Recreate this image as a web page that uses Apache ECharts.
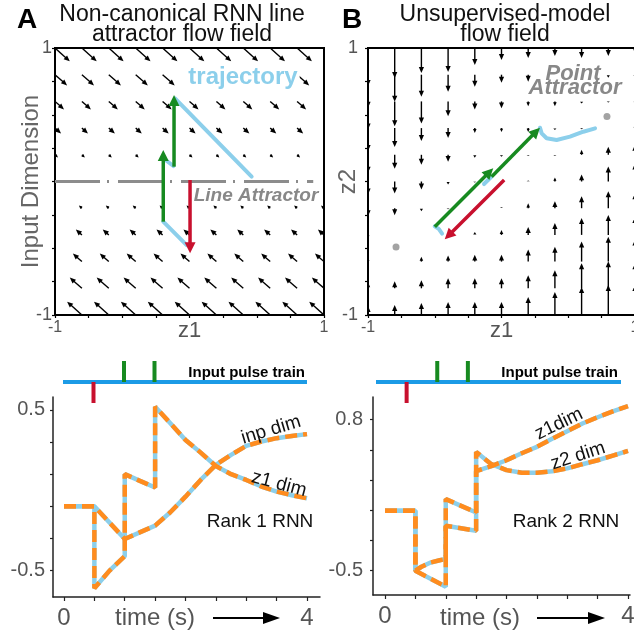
<!DOCTYPE html>
<html>
<head>
<meta charset="utf-8">
<script src="https://cdn.jsdelivr.net/npm/echarts@6/dist/echarts.min.js"></script>
<style>
html, body { margin: 0; padding: 0; background: #fff; }
#chart { width: 634px; height: 636px; }
</style>
</head>
<body>
<div id="chart"></div>
<script>
// ---------- panel A : flow field of the rank-1 RNN (arrows only depend on the row) ----------
const aColX = [-1, -0.8, -0.6, -0.4, -0.2, 0, 0.2, 0.4, 0.6, 0.8, 1];
const aRowY = [1, 0.8, 0.6, 0.4, 0.2, 0, -0.2, -0.4, -0.6, -0.8, -1];
const aRowDx = [0.11, 0.09, 0.067, 0.045, 0.022, 0, -0.022, -0.045, -0.067, -0.09, -0.11];
const aRowDy = [-0.1, -0.08, -0.06, -0.04, -0.02, 0, 0.02, 0.04, 0.06, 0.08, 0.1];
const aLineAttr = [[-1, 0], [0.92, 0]];
const aRedPulse = [[0.004, 0.011, 0.004, -0.538]];
const aGreenPulses = [[-0.195, -0.301, -0.195, 0.236], [-0.115, 0.111, -0.115, 0.648]];
const aFlow1 = [[-0.021, -0.476], [-0.195, -0.301]];
const aFlow2 = [[-0.195, 0.174], [-0.12, 0.116]];
const aFlow3 = [[-0.108, 0.623], [0.462, 0.036]];

// ---------- panel B : unsupervised model flow field ----------
const bColX = [-1, -0.8, -0.6, -0.4, -0.2, 0, 0.2, 0.4, 0.6, 0.8, 1];
const bRowY = [1, 0.8, 0.6, 0.4, 0.2, 0, -0.2, -0.4, -0.6, -0.8, -1];
// vertical component per row (top row first), one value per column
const bDy = [
  [-0.285, -0.225, -0.187, -0.18, -0.127, -0.09, -0.075, -0.06, -0.075, -0.06, -0.037],
  [-0.247, -0.202, -0.165, -0.127, -0.09, -0.06, -0.052, -0.03, -0.022, -0.022, -0.022],
  [-0.21, -0.187, -0.165, -0.112, -0.06, -0.052, -0.037, -0.037, -0.015, -0.008, -0.015],
  [-0.172, -0.142, -0.097, -0.075, -0.037, -0.03, -0.03, -0.015, -0.008, 0, 0.022],
  [-0.135, -0.105, -0.075, -0.052, -0.022, -0.015, -0.008, -0.008, 0.037, 0.06, 0.075],
  [-0.097, -0.09, -0.06, -0.022, -0.008, -0.008, 0.008, 0.03, 0.052, 0.112, 0.135],
  [-0.06, -0.052, -0.022, -0.008, -0.008, 0.008, 0.037, 0.052, 0.09, 0.127, 0.112],
  [-0.022, -0.004, -0.004, 0, 0.022, 0.037, 0.06, 0.09, 0.127, 0.15, 0.135],
  [0.022, 0.004, 0.037, 0.045, 0.052, 0.052, 0.09, 0.112, 0.15, 0.187, 0.165],
  [0.045, 0.052, 0.06, 0.075, 0.075, 0.075, 0.097, 0.135, 0.187, 0.202, 0.187],
  [0.067, 0.075, 0.09, 0.097, 0.097, 0.097, 0.135, 0.172, 0.21, 0.225, 0.225]
];
const bPointAttr = [[-0.79, -0.49], [0.79, 0.486]];
const bRedPulse = [[0.02, 0.011, -0.425, -0.433]];
const bGreenPulses = [[-0.5, -0.339, -0.062, 0.099], [-0.074, 0.036, 0.288, 0.403]];
const bFlow1 = [[-0.5, -0.336], [-0.47, -0.355], [-0.445, -0.39]];
const bFlow2 = [[-0.131, -0.019], [-0.078, 0.034]];
const bFlow3 = [[0.288, 0.403], [0.301, 0.361], [0.338, 0.324], [0.413, 0.311], [0.513, 0.336], [0.613, 0.373], [0.701, 0.398]];

// ---------- input pulse train ----------
const pulseTimes = [0.5, 1.0, 1.5];
const pulseSigns = [-1, 1, 1];
const pulseSpan = [0, 4];

// ---------- panel C : rank 1 RNN time course ----------
const cTimeZ1 = [0, 0.5, 0.5, 0.75, 1.0, 1.0, 1.25, 1.5, 1.5, 1.75, 2.0, 2.25, 2.5, 2.75, 3.0, 3.25, 3.5, 3.75, 4.0];
const cZ1 = [-0.1, -0.1, -0.61, -0.5, -0.41, 0.1, 0.058, 0.017, 0.52, 0.417, 0.313, 0.234, 0.151, 0.1, 0.064, 0.023, -0.008, -0.031, -0.05];
const cTimeInp = [0, 0.5, 1.0, 1.5, 1.75, 2.0, 2.25, 2.5, 2.75, 3.0, 3.25, 3.5, 3.75, 4.0];
const cInp = [-0.1, -0.1, -0.303, -0.22, -0.137, -0.04, 0.064, 0.158, 0.22, 0.276, 0.303, 0.324, 0.338, 0.349];
const cTicksX = [0, 0.5, 1, 1.5, 2, 2.5, 3, 3.5, 4];
const cTicksY = [-0.5, -0.3, -0.1, 0.1, 0.3, 0.5];

// ---------- panel D : rank 2 RNN time course ----------
const dTimeZ1 = [0, 0.5, 0.5, 1.0, 1.0, 1.5, 1.5, 1.75, 2.0, 2.25, 2.5, 2.75, 3.0, 3.25, 3.5, 3.75, 4.0];
const dZ1 = [0.015, 0.015, -0.5, -0.638, -0.113, -0.156, 0.356, 0.4, 0.45, 0.51, 0.565, 0.634, 0.7, 0.766, 0.82, 0.87, 0.915];
const dTimeZ2 = [0, 0.5, 0.5, 0.6, 0.75, 0.9, 1.0, 1.0, 1.5, 1.5, 1.75, 2.0, 2.25, 2.5, 2.75, 3.0, 3.25, 3.5, 3.75, 4.0];
const dZ2 = [0.015, 0.015, -0.5, -0.466, -0.43, -0.41, -0.4, 0.116, 0.001, 0.522, 0.416, 0.365, 0.342, 0.342, 0.356, 0.38, 0.416, 0.45, 0.49, 0.53];
const dTicksY = [-0.5, -0.24, 0.02, 0.28, 0.54, 0.8];

const FONT = '"Liberation Sans", Arial, Helvetica, sans-serif';
const RED = '#c8102e', GREEN = '#178a20', SKY = '#8ccfeb', ORANGE = '#ff8c1e', PULSE = '#1c9be6';

// arrow drawn from (x0,y0) to (x1,y1) or to (x0+dx,y0+dy) when relative
function makeArrow(o) {
  return function (params, api) {
    const x0 = api.value(0), y0 = api.value(1);
    let x1 = api.value(2), y1 = api.value(3);
    if (o.relative) { x1 += x0; y1 += y0; }
    const p0 = api.coord([x0, y0]), p1 = api.coord([x1, y1]);
    const vx = p1[0] - p0[0], vy = p1[1] - p0[1];
    const len = Math.hypot(vx, vy);
    const cs = params.coordSys;
    const group = { type: 'group', children: [],
      clipPath: { type: 'rect', shape: { x: cs.x, y: cs.y, width: cs.width, height: cs.height } } };
    if (len < 0.8) return group;
    const ux = vx / len, uy = vy / len, nx = -uy, ny = ux;
    let hl = o.headL, hw = o.headW / 2;
    if (len < hl * 1.2) { const k = len / (hl * 1.2); hl *= k; hw *= Math.max(k, 0.6); }
    const bx = p1[0] - ux * hl, by = p1[1] - uy * hl;
    if (len > hl + 0.5) {
      group.children.push({ type: 'line',
        shape: { x1: p0[0], y1: p0[1], x2: bx + ux, y2: by + uy },
        style: { stroke: o.color, lineWidth: o.shaftW } });
    }
    group.children.push({ type: 'polygon',
      shape: { points: [[p1[0], p1[1]], [bx + nx * hw, by + ny * hw], [bx - nx * hw, by - ny * hw]] },
      style: { fill: o.color } });
    return group;
  };
}

const aQuiver = [];
aRowY.forEach((y, r) => aColX.forEach(x => aQuiver.push([x, y, aRowDx[r], aRowDy[r]])));
const bQuiver = [];
bRowY.forEach((y, r) => bColX.forEach((x, c) => bQuiver.push([x, y, 0, bDy[r][c]])));

function zip(ts, vs) { return ts.map((t, i) => [t, vs[i]]); }

function flowLine(data, xi) {
  return { type: 'line', xAxisIndex: xi, yAxisIndex: xi, data: data, symbol: 'none', z: 3,
    lineStyle: { color: SKY, width: 4, cap: 'round' }, silent: true };
}
function pulseArrows(data, xi, color) {
  return { type: 'custom', xAxisIndex: xi, yAxisIndex: xi, data: data, z: 4,
    encode: { x: [0, 2], y: [1, 3] },
    renderItem: makeArrow({ relative: false, color: color, shaftW: 3.5, headL: 11, headW: 11 }) };
}
function quiver(data, xi) {
  return { type: 'custom', xAxisIndex: xi, yAxisIndex: xi, data: data, z: 1,
    encode: { x: 0, y: 1 },
    renderItem: makeArrow({ relative: true, color: '#000', shaftW: 1.4, headL: 6, headW: 5.2 }) };
}
function dashedTrace(data, xi) {
  return [
    { type: 'line', xAxisIndex: xi, yAxisIndex: xi, data: data, symbol: 'none', z: 2,
      lineStyle: { color: SKY, width: 4.5 } },
    { type: 'line', xAxisIndex: xi, yAxisIndex: xi, data: data, symbol: 'none', z: 3,
      lineStyle: { color: ORANGE, width: 4.5, type: [12, 6] } }
  ];
}
function pulseSeries(xi) {
  return [
    { type: 'line', xAxisIndex: xi, yAxisIndex: xi, data: pulseSpan.map(t => [t, 0]), symbol: 'none', z: 2,
      lineStyle: { color: PULSE, width: 4 } },
    { type: 'bar', xAxisIndex: xi, yAxisIndex: xi, barWidth: 4, z: 3,
      data: pulseTimes.map((t, i) => ({ value: [t, pulseSigns[i]],
        itemStyle: { color: pulseSigns[i] < 0 ? RED : GREEN } })) }
  ];
}

const boxAxis = {
  axisLine: { show: true, onZero: false, lineStyle: { color: '#000', width: 2 } },
  axisTick: { show: true, inside: false, length: 3, lineStyle: { color: '#000', width: 1.2 } },
  splitLine: { show: false }
};
function flowX(gi) {
  return Object.assign({ type: 'value', gridIndex: gi, min: -1, max: 1, interval: 0.25,
    axisLabel: { customValues: [-1, 0, 1], margin: 5, fontSize: 16, color: '#555', fontFamily: FONT,
      formatter: v => v === 0 ? '{z|z1}' : String(v),
      rich: { z: { fontSize: 22, color: '#555', fontFamily: FONT } } } }, boxAxis);
}
function flowY(gi, name, gap, margin) {
  return Object.assign({ type: 'value', gridIndex: gi, min: -1, max: 1, interval: 0.25,
    name: name, nameLocation: 'middle', nameGap: gap, nameMoveOverlap: false,
    nameTextStyle: { fontSize: 24, color: '#666', fontFamily: FONT },
    axisLabel: { customValues: [-1, 1], margin: margin, fontSize: 18, color: '#555', fontFamily: FONT } }, boxAxis);
}
const timeAxisStyle = {
  axisLine: { show: true, onZero: false, lineStyle: { color: '#222', width: 1.5 } },
  splitLine: { show: false }
};
function timeX(gi, min, max) {
  return Object.assign({ type: 'value', gridIndex: gi, min: min, max: max,
    axisTick: { show: true, length: 4, customValues: cTicksX, lineStyle: { color: '#222', width: 1.2 } },
    axisLabel: { customValues: [0, 4], margin: 9, fontSize: 24, color: '#555', fontFamily: FONT } },
    timeAxisStyle);
}
function timeY(gi, min, max, ticks, labels, margin) {
  return Object.assign({ type: 'value', gridIndex: gi, min: min, max: max,
    axisTick: { show: true, length: 3, customValues: ticks, lineStyle: { color: '#222', width: 1.2 } },
    axisLabel: { customValues: labels, margin: margin, fontSize: 20, color: '#555', fontFamily: FONT } },
    timeAxisStyle);
}
function hidden(gi, min, max) {
  return { type: 'value', gridIndex: gi, min: min, max: max, show: false, splitLine: { show: false } };
}

function txt(text, x, y, size, opts) {
  opts = opts || {};
  const style = { text: text, fontSize: size, fontFamily: FONT, fontWeight: opts.weight || 'normal',
    fontStyle: opts.style || 'normal', fill: opts.color || '#111',
    align: opts.align || 'center', verticalAlign: opts.va || 'middle', lineHeight: opts.lh };
  if (opts.bg) { style.backgroundColor = '#fff'; style.padding = [0, 2]; }
  return { type: 'text', x: x, y: y, rotation: opts.rot || 0, z: 10, style: style };
}
function timeArrow(x1, x2, y) {
  return [
    { type: 'line', shape: { x1: x1, y1: y, x2: x2 - 14, y2: y }, style: { stroke: '#000', lineWidth: 2 } },
    { type: 'polygon', shape: { points: [[x2 - 17, y - 6], [x2, y], [x2 - 17, y + 6]] }, style: { fill: '#000' } }
  ];
}

const chart = echarts.init(document.getElementById('chart'), null, { renderer: 'canvas' });
chart.setOption({
  animation: false,
  backgroundColor: '#fff',
  grid: [
    { left: 55, top: 48, width: 269, height: 267, show: true, borderColor: '#000', borderWidth: 2, outerBoundsMode: 'none' },
    { left: 368, top: 48, width: 267, height: 267, show: true, borderColor: '#000', borderWidth: 2, outerBoundsMode: 'none' },
    { left: 53, top: 397, width: 267, height: 200, outerBoundsMode: 'none' },
    { left: 373, top: 397, width: 257, height: 198, outerBoundsMode: 'none' },
    { left: 63, top: 361, width: 244, height: 42, outerBoundsMode: 'none' },
    { left: 376, top: 361, width: 245, height: 42, outerBoundsMode: 'none' }
  ],
  xAxis: [
    flowX(0), flowX(1),
    timeX(2, -0.181, 4.214), timeX(3, -0.198, 4.033),
    hidden(4, 0, 4), hidden(5, 0, 4)
  ],
  yAxis: [
    flowY(0, 'Input Dimension', 12, 3), flowY(1, 'z2', 8, 10),
    timeY(2, -0.664, 0.58, cTicksY, [-0.5, 0.5], 8),
    timeY(3, -0.709, 0.994, dTicksY, [-0.5, 0.8], 10),
    hidden(4, -1, 1), hidden(5, -1, 1)
  ],
  series: [
    quiver(aQuiver, 0),
    { type: 'line', xAxisIndex: 0, yAxisIndex: 0, data: aLineAttr, symbol: 'none', z: 2,
      lineStyle: { color: '#8c8c8c', width: 3, type: [45, 7, 2, 9] } },
    flowLine(aFlow1, 0), flowLine(aFlow2, 0), flowLine(aFlow3, 0),
    pulseArrows(aGreenPulses, 0, GREEN), pulseArrows(aRedPulse, 0, RED),

    quiver(bQuiver, 1),
    { type: 'scatter', xAxisIndex: 1, yAxisIndex: 1, data: bPointAttr, symbolSize: 7, z: 2,
      itemStyle: { color: '#8c8c8c' } },
    flowLine(bFlow1, 1), flowLine(bFlow2, 1), flowLine(bFlow3, 1),
    pulseArrows(bGreenPulses, 1, GREEN), pulseArrows(bRedPulse, 1, RED),

    ...pulseSeries(4), ...pulseSeries(5),
    ...dashedTrace(zip(cTimeZ1, cZ1), 2), ...dashedTrace(zip(cTimeInp, cInp), 2),
    ...dashedTrace(zip(dTimeZ1, dZ1), 3), ...dashedTrace(zip(dTimeZ2, dZ2), 3)
  ],
  graphic: [
    txt('A', 17, 6, 28, { weight: 'bold', align: 'left', va: 'top', color: '#000' }),
    txt('Non-canonical RNN line\nattractor flow field', 182, 5, 23, { va: 'top', lh: 20 }),
    txt('B', 342, 6, 28, { weight: 'bold', align: 'left', va: 'top', color: '#000' }),
    txt('Unsupervised-model\nflow field', 505, 5, 23, { va: 'top', lh: 20 }),
    txt('trajectory', 243, 77, 24, { weight: 'bold', color: SKY, bg: true }),
    txt('Line Attractor', 256, 196, 19, { weight: 'bold', style: 'italic', color: '#888' }),
    txt('Point', 573, 74, 22, { weight: 'bold', style: 'italic', color: '#888', bg: true }),
    txt('Attractor', 575, 88, 22, { weight: 'bold', style: 'italic', color: '#888' }),
    txt('Input pulse train', 305, 373, 15, { weight: 'bold', align: 'right', color: '#000' }),
    txt('Input pulse train', 618, 373, 15, { weight: 'bold', align: 'right', color: '#000' }),
    txt('inp dim', 271, 430, 19, { rot: 0.29 }),
    txt('z1 dim', 279, 484, 19, { rot: -0.26 }),
    txt('Rank 1 RNN', 260, 522, 19),
    txt('z1dim', 559, 424, 19, { rot: 0.45 }),
    txt('z2 dim', 578, 456, 19, { rot: 0.31 }),
    txt('Rank 2 RNN', 566, 522, 19),
    txt('time (s)', 155, 618, 24, { color: '#555' }),
    txt('time (s)', 480, 618, 24, { color: '#555' }),
    ...timeArrow(213, 280, 618),
    ...timeArrow(537, 605, 618)
  ]
});
</script>
</body>
</html>
